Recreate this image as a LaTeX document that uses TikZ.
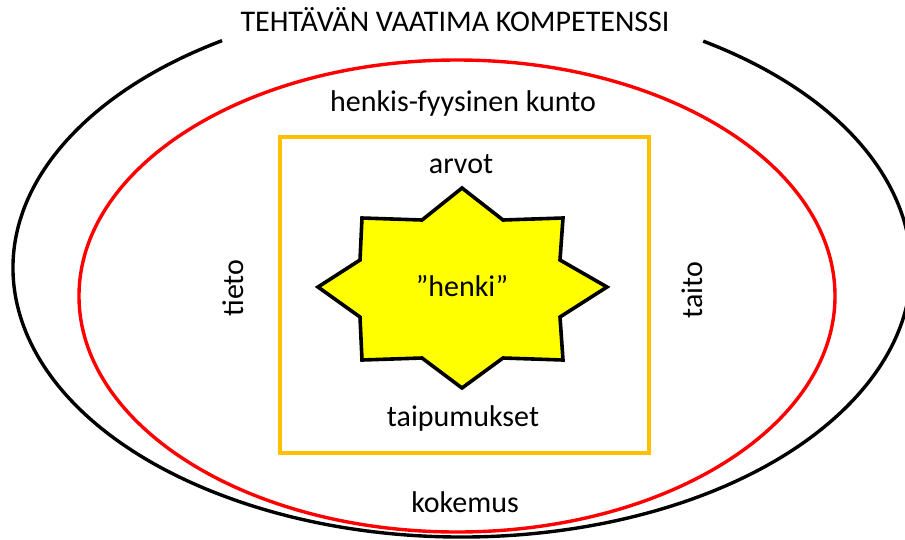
\documentclass[tikz,border=0pt]{standalone}
\usepackage{fontspec}
\setmainfont{Carlito}
\usetikzlibrary{shapes.geometric}
\begin{document}
\begin{tikzpicture}[x=1pt,y=-1pt,
  lbl/.style={inner sep=0pt,font=\fontsize{30}{36}\selectfont},
  ring/.style={line width=3.4pt}]
\definecolor{ringred}{RGB}{255,0,0}
\definecolor{boxorange}{RGB}{255,192,0}
\definecolor{staryellow}{RGB}{255,255,0}
\useasboundingbox (0,0) rectangle (905,539);
% outer black ellipse with gap at the top
\coordinate (bc) at (462,268);
\draw[ring,black] (bc) ++(-57.5:449 and 269) arc[start angle=-57.5,end angle=237.7,x radius=449,y radius=269];
% red ellipse
\node[ring,draw=ringred,ellipse,minimum width=756,minimum height=472,inner sep=0pt] (red) at (457,296) {};
% orange box
\node[line width=3.4pt,draw=boxorange,minimum width=369,minimum height=316,inner sep=0pt] (box) at (464.5,295) {};
% star
\draw[line width=3.6pt,fill=staryellow,line join=miter]
  (462,188) -- (503,220) -- (563,218) -- (560,260) -- (607,287) -- (560,317) --
  (563,360) -- (503,358) -- (462,388) -- (422,358) -- (362,360) -- (360,317) --
  (318,287) -- (360,260) -- (362,218) -- (422,220) -- cycle;
\node[lbl] (henki) at (462,286) {”henki”};
% labels
\node[lbl] (title) at (455,20) {TEHTÄVÄN VAATIMA KOMPETENSSI};
\node[lbl] (kunto) at (463,103) {henkis-fyysinen kunto};
\node[lbl] (arvot) at (461,164) {arvot};
\node[lbl] (taip) at (463,418) {taipumukset};
\node[lbl] (kokemus) at (465,502) {kokemus};
\node[lbl,rotate=90] (tieto) at (233,288) {tieto};
\node[lbl,rotate=90] (taito) at (692,290) {taito};
\end{tikzpicture}
\end{document}
